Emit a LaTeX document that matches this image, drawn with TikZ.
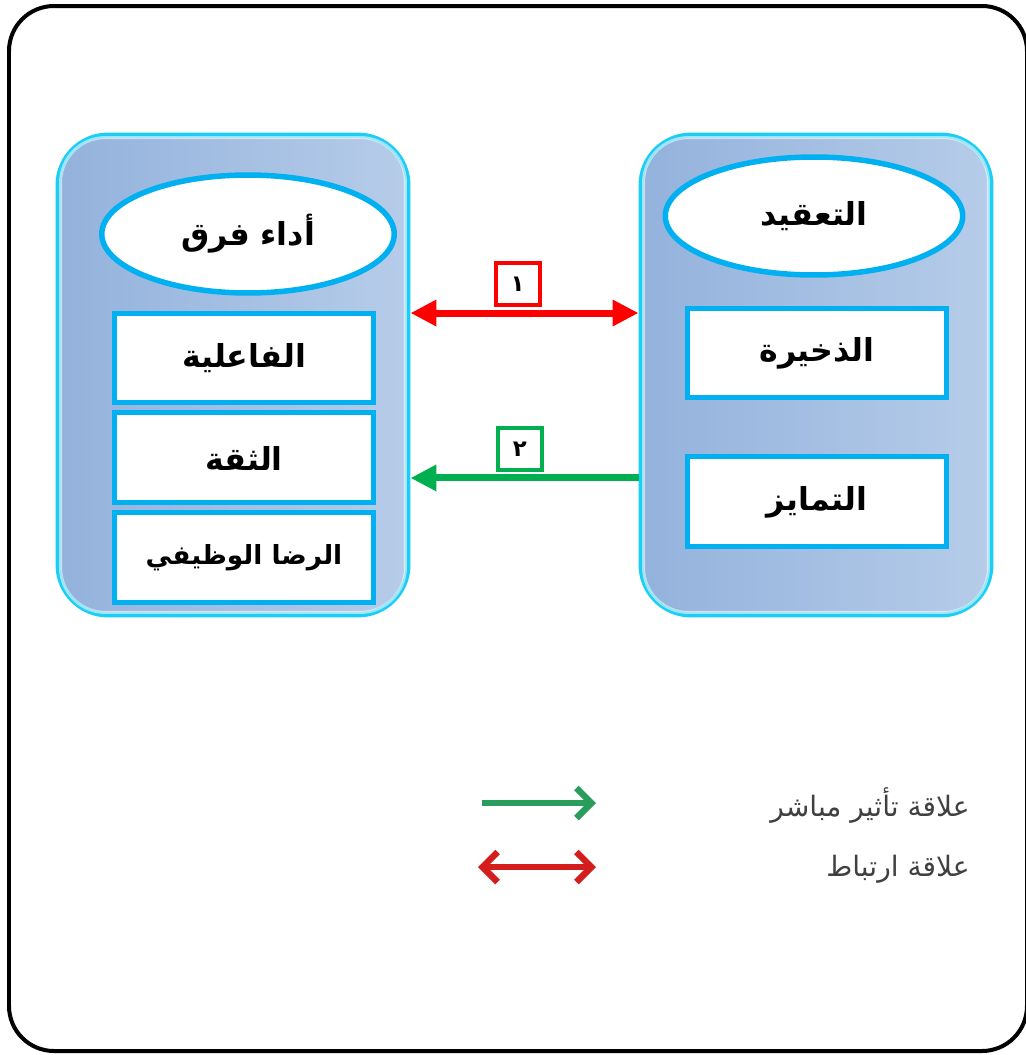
\documentclass[tikz,border=0pt]{standalone}
\usepackage{fontspec}
\newfontfamily\arabicfont[Script=Arabic]{DejaVu Sans}
\TeXXeTstate=1
\usetikzlibrary{positioning,arrows.meta,shapes.geometric}

\definecolor{boxblue}{HTML}{00B0F0}
\definecolor{panelrim}{HTML}{1CCDF5}
\definecolor{paneldark}{HTML}{93B2DC}
\definecolor{panellight}{HTML}{B6CCE9}
\definecolor{linkred}{HTML}{FF0000}
\definecolor{linkgreen}{HTML}{00B050}
\definecolor{legred}{HTML}{D41E1E}
\definecolor{leggreen}{HTML}{2A9D5C}

% right-to-left arabic text
\newcommand{\artxt}[1]{\arabicfont\beginR #1\endR}

\begin{document}
\begin{tikzpicture}[
		x=0.02cm, y=-0.02cm,
		panel/.style = {draw=panelrim, line width=0.1cm, rounded corners=1cm,
			shading=axis, left color=paneldark, right color=panellight,
			minimum width=7cm, minimum height=9.6cm},
		glow/.style = {draw=white, opacity=0.55, line width=0.06cm, rounded corners=0.9cm},
		title/.style = {ellipse, draw=boxblue, line width=0.11cm, fill=white,
			minimum width=5.85cm, minimum height=2.36cm, inner sep=0pt,
			font=\bfseries\fontsize{18}{22}\selectfont},
		item/.style = {draw=boxblue, line width=0.1cm, fill=white,
			minimum width=5.2cm, minimum height=1.8cm, inner sep=0pt,
			font=\bfseries\fontsize{18}{22}\selectfont},
		numbox/.style = {draw=#1, line width=0.08cm, fill=white,
			minimum width=0.88cm, minimum height=0.84cm, inner sep=0pt,
			font=\bfseries\fontsize{13}{15}\selectfont},
		link/.style = {draw=#1, line width=0.14cm, >={Triangle[length=0.52cm, width=0.5cm]}},
		legarrow/.style = {draw=#1, line width=0.13cm, >={Straight Barb[length=0.3cm, width=0.6cm]}},
		legend/.style = {text=black!75, inner sep=0pt, font=\fontsize{16}{19}\selectfont}
	]
	\useasboundingbox (0,0) rectangle (1025,1055);
	% outer frame
	\draw[line width=0.08cm, rounded corners=0.9cm] (9,6) rectangle (1027,1051);

	% left panel
	\node[panel] (lp) at (233,375) {};
	\draw[glow] ([shift={(0.1cm,-0.1cm)}]lp.north west) rectangle ([shift={(-0.1cm,0.1cm)}]lp.south east);
	\node[title] (lt) at (248,234) {\artxt{أداء فرق}};
	\node[item] (lb1) at (244,358) {\artxt{الفاعلية}};
	\node[item] (lb2) [below=0.1cm of lb1] {\artxt{الثقة}};
	\node[item, font=\bfseries\fontsize{15}{18}\selectfont] (lb3) [below=0.1cm of lb2] {\artxt{الرضا الوظيفي}};

	% right panel
	\node[panel] (rp) at (816,375) {};
	\draw[glow] ([shift={(0.1cm,-0.1cm)}]rp.north west) rectangle ([shift={(-0.1cm,0.1cm)}]rp.south east);
	\node[title, minimum width=5.95cm] (rt) at (814,216) {\artxt{التعقيد}};
	\node[item] (rb1) at (817,353) {\artxt{الذخيرة}};
	\node[item] (rb2) [below=1.08cm of rb1] {\artxt{التمايز}};

	% links between the panels
	\draw[link=linkred, <->] ([yshift=1.24cm]lp.east) -- node[numbox=linkred, pos=0.47, above=0.12cm] (n1) {\artxt{١}} ([yshift=1.24cm]rp.west);
	\draw[link=linkgreen, ->] ([yshift=-2.06cm]rp.west) -- node[numbox=linkgreen, pos=0.52, above=0.12cm] (n2) {\artxt{٢}} ([yshift=-2.06cm]lp.east);

	% legend
	\node[legend, anchor=east] (lg1) at (970,805) {\artxt{علاقة تأثير مباشر}};
	\node[legend, anchor=east] (lg2) at (970,869) {\artxt{علاقة ارتباط}};
	\coordinate (g1) at (482,803);
	\coordinate (g2) at (596,803);
	\coordinate (r1) at (478,867);
	\coordinate (r2) at (596,867);
	\draw[legarrow=leggreen, ->] (g1) -- (g2);
	\draw[legarrow=legred, <->] (r1) -- (r2);
\end{tikzpicture}
\end{document}
